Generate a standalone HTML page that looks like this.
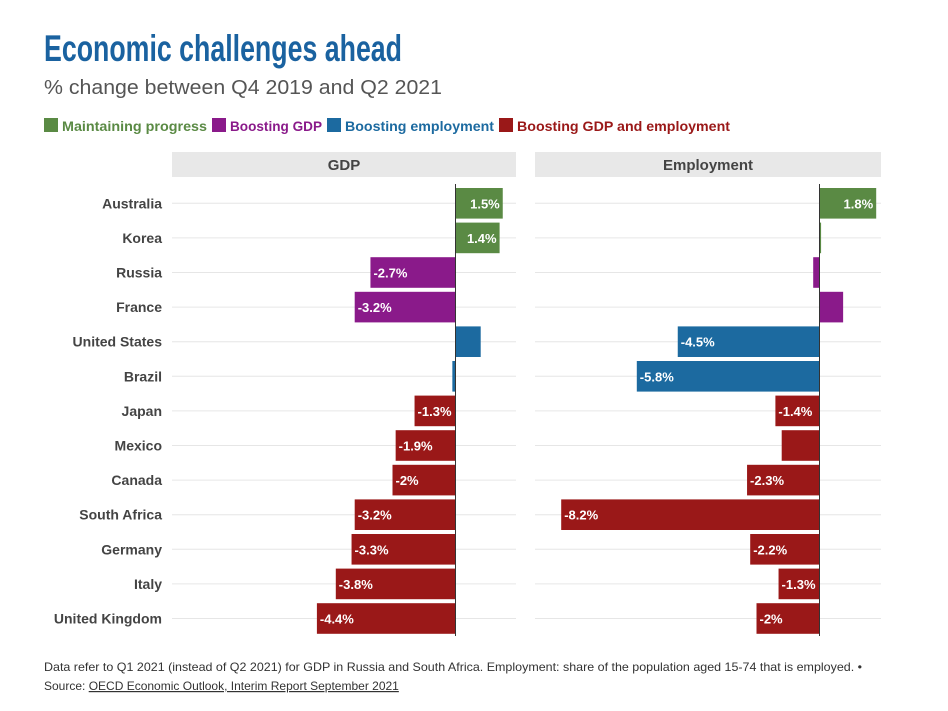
<!DOCTYPE html>
<html><head><meta charset="utf-8"><style>
body{margin:0;background:#fff;font-family:"Liberation Sans",sans-serif}
svg{display:block}
</style></head><body>
<svg id="chart" width="948" height="711">
<text x="44" y="61" font-family="Liberation Sans Narrow, Liberation Sans, sans-serif" font-weight="bold" font-size="37" fill="#1a62a0" textLength="358" lengthAdjust="spacingAndGlyphs">Economic challenges ahead</text>
<text x="44" y="94" font-size="20" fill="#555" textLength="398" lengthAdjust="spacingAndGlyphs">% change between Q4 2019 and Q2 2021</text>
<g id="legend"></g>
<g id="panels"></g>
<text x="44" y="671" font-size="12" fill="#333" textLength="818" lengthAdjust="spacingAndGlyphs">Data refer to Q1 2021 (instead of Q2 2021) for GDP in Russia and South Africa. Employment: share of the population aged 15-74 that is employed. •</text>
<text x="44" y="690" font-size="12" fill="#333">Source: <tspan text-decoration="underline">OECD Economic Outlook, Interim Report September 2021</tspan></text>
</svg>
<script>
const categories=["Australia","Korea","Russia","France","United States","Brazil","Japan","Mexico","Canada","South Africa","Germany","Italy","United Kingdom"];
const gdpValues=[1.5,1.4,-2.7,-3.2,0.8,-0.1,-1.3,-1.9,-2,-3.2,-3.3,-3.8,-4.4];
const empValues=[1.8,0.05,-0.2,0.75,-4.5,-5.8,-1.4,-1.2,-2.3,-8.2,-2.2,-1.3,-2];
const gdpLabels=["1.5%","1.4%","-2.7%","-3.2%","","","-1.3%","-1.9%","-2%","-3.2%","-3.3%","-3.8%","-4.4%"];
const empLabels=["1.8%","","","","-4.5%","-5.8%","-1.4%","","-2.3%","-8.2%","-2.2%","-1.3%","-2%"];
const groups=[0,0,1,1,2,2,3,3,3,3,3,3,3];
const groupNames=["Maintaining progress","Boosting GDP","Boosting employment","Boosting GDP and employment"];
const colors=["#5a8a44","#8a1a8a","#1c6aa0","#9a1818"];
const NS="http://www.w3.org/2000/svg";
function mk(tag,attrs,parent,text){const e=document.createElementNS(NS,tag);for(const k in attrs)e.setAttribute(k,attrs[k]);if(text!==undefined)e.textContent=text;parent.appendChild(e);return e;}
const lg=document.getElementById('legend');
const lpos=[44,212,327,499];
const lwid=[145,92,149,213];
groupNames.forEach((n,i)=>{
  const r=mk('rect',{x:lpos[i],y:118,width:14,height:14,fill:colors[i]},lg);
  
  
  const t=mk('text',{x:lpos[i]+18,y:131,'font-size':14,'font-weight':'bold',fill:colors[i],textLength:lwid[i],lengthAdjust:'spacingAndGlyphs'},lg,n);
  
  
});
const scale=31.5;
const rowTop=186, rowH=34.6;
function y(i){return rowTop+i*rowH;}
const panels=document.getElementById('panels');
function panel(name,x0,x1,zero,vals,labels){
  const g=mk('g',{},panels);
  
  
  const h=mk('rect',{x:x0,y:152,width:x1-x0,height:25,fill:'#e8e8e8'},g);
  
  
  const ht=mk('text',{x:(x0+x1)/2,y:170,'text-anchor':'middle','font-size':15,'font-weight':'bold',fill:'#444'},g,name);
  
  
  const xs=v=>zero+v*scale;
  categories.forEach((c,i)=>{
    const cy=y(i)+rowH/2;
    const gl=mk('line',{x1:x0,x2:x1,y1:cy,y2:cy,stroke:'#e6e6e6','stroke-width':1},g);
    
    
  });
  vals.forEach((v,i)=>{
    const a=xs(Math.min(0,v)),b=xs(Math.max(0,v));
    const r=mk('rect',{x:a,y:y(i)+2,width:Math.max(1,b-a),height:rowH-4,fill:colors[groups[i]]},g);
    
    
    if(labels[i]){
      const t=mk('text',{x:v<0?a+3:b-3,y:y(i)+rowH/2+5,'text-anchor':v<0?'start':'end','font-size':13,'font-weight':'bold',fill:'#fff'},g,labels[i]);
      
      
    }
  });
  const zl=mk('line',{x1:zero,x2:zero,y1:184,y2:636,stroke:'#333','stroke-width':1},g);
  
  
}
categories.forEach((c,i)=>{
  const t=mk('text',{x:162,y:y(i)+rowH/2+5,'text-anchor':'end','font-size':14,'font-weight':'bold',fill:'#444'},panels,c);
  
  
});
panel('GDP',172,516,455.5,gdpValues,gdpLabels);
panel('Employment',535,881,819.5,empValues,empLabels);
</script>
</body></html>
